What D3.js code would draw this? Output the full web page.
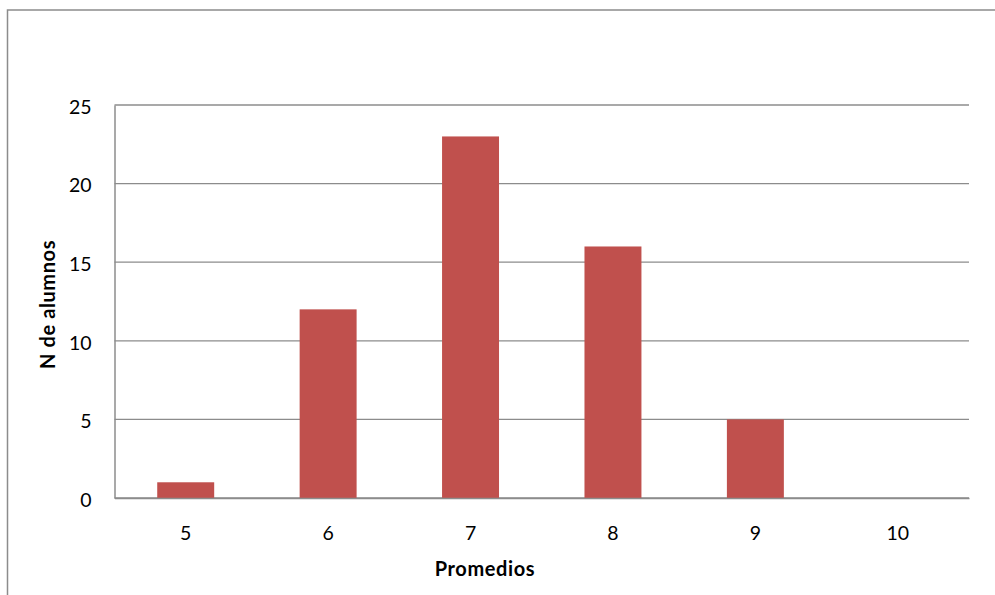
<!DOCTYPE html>
<html>
<head>
<meta charset="utf-8">
<script src="https://cdn.jsdelivr.net/npm/d3@7"></script>
<style>
  html, body { margin: 0; padding: 0; background: #fff; }
  svg { display: block; }
  text { font-family: Lato, "Open Sans", "Liberation Sans", sans-serif; fill: #000; }
</style>
</head>
<body>
<svg id="chart" width="995" height="595"></svg>
<script>
// Number of students per grade average
const categories = ["5", "6", "7", "8", "9", "10"];
const students = [1, 12, 23, 16, 5, 0];
const yTicks = [0, 5, 10, 15, 20, 25];

const svg = d3.select("#chart");
const W = 995, H = 595;
const plot = { left: 114.5, right: 969, top: 105, bottom: 498 };
const tickFont = 19.5;
const titleFont = 20;

// outer chart frame
svg.append("rect")
  .attr("x", 7.5).attr("y", 10)
  .attr("width", W + 20).attr("height", H + 20)
  .attr("fill", "#fff").attr("stroke", "#8c8c8c").attr("stroke-width", 1.5);

const x = d3.scaleBand()
  .domain(categories)
  .range([plot.left, plot.right])
  .paddingInner(0.6)
  .paddingOuter(0.3);

const y = d3.scaleLinear()
  .domain([0, 25])
  .range([plot.bottom, plot.top]);

// horizontal gridlines
svg.append("g")
  .selectAll("line")
  .data(yTicks)
  .join("line")
  .attr("x1", plot.left).attr("x2", plot.right)
  .attr("y1", d => y(d)).attr("y2", d => y(d))
  .attr("stroke", "#8c8c8c").attr("stroke-width", 1.3);

// bars
svg.append("g")
  .selectAll("rect")
  .data(students.map((v, i) => ({ cat: categories[i], v })))
  .join("rect")
  .attr("x", d => x(d.cat))
  .attr("y", d => y(d.v))
  .attr("width", x.bandwidth())
  .attr("height", d => y(0) - y(d.v))
  .attr("fill", "#C0504D");

// y axis (line only, no ticks)
const yAxis = svg.append("g")
  .attr("transform", `translate(${plot.left},0)`)
  .call(d3.axisLeft(y).tickValues(yTicks).tickSize(0).tickPadding(23));
yAxis.select(".domain").attr("stroke", "#8c8c8c").attr("stroke-width", 1.5);
yAxis.selectAll("text")
  .attr("font-size", tickFont)
  .attr("font-family", "Lato, 'Open Sans', sans-serif")
  .attr("dy", "0.42em");

// x axis
const xAxis = svg.append("g")
  .attr("transform", `translate(0,${plot.bottom})`)
  .call(d3.axisBottom(x).tickSize(0).tickPadding(28));
xAxis.select(".domain").attr("stroke", "#8c8c8c").attr("stroke-width", 1.5);
xAxis.selectAll("text")
  .attr("font-size", tickFont)
  .attr("font-family", "Lato, 'Open Sans', sans-serif");

// axis titles
svg.append("text")
  .attr("x", 485)
  .attr("y", 576)
  .attr("text-anchor", "middle")
  .attr("font-size", titleFont)
  .attr("font-weight", "bold")
  .attr("letter-spacing", 0.6)
  .text("Promedios");

svg.append("text")
  .attr("transform", `translate(55,${(plot.top + plot.bottom) / 2 + 3}) rotate(-90)`)
  .attr("text-anchor", "middle")
  .attr("font-size", titleFont)
  .attr("font-weight", "bold")
  .attr("letter-spacing", 0.6)
  .text("N de alumnos");
</script>
</body>
</html>
